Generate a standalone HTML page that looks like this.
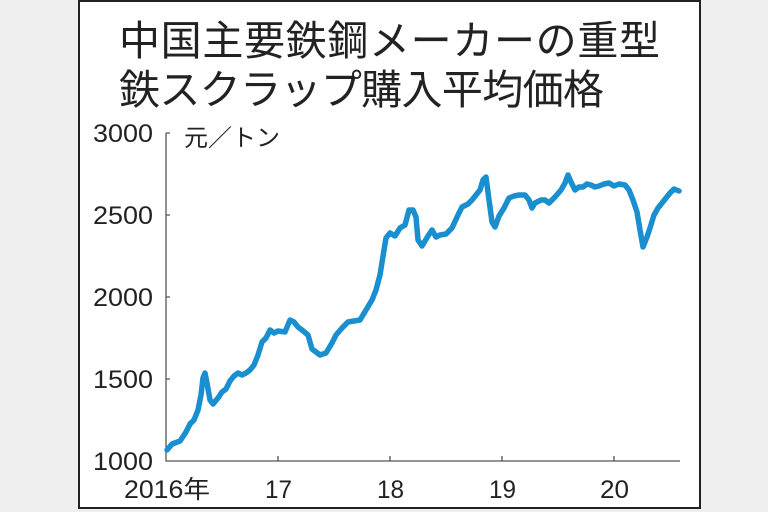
<!DOCTYPE html>
<html><head><meta charset="utf-8"><style>
body{margin:0;background:#efefef;width:768px;height:512px;overflow:hidden}
</style></head><body>
<svg width="768" height="512" viewBox="0 0 768 512" style="position:absolute;left:0;top:0">
<rect x="79" y="1" width="621" height="507" fill="#fff" stroke="#222" stroke-width="2"/>
<g font-family="'Liberation Sans','Noto Sans CJK JP',sans-serif" fill="#222">
<text x="119" y="55" font-size="41" textLength="541" lengthAdjust="spacing">中国主要鉄鋼メーカーの重型</text>
<text x="119" y="104" font-size="41" textLength="485" lengthAdjust="spacing">鉄スクラップ購入平均価格</text>
<text x="184" y="146" font-size="24">元／トン</text>
<g font-size="25">
<text x="93" y="142" textLength="60" lengthAdjust="spacingAndGlyphs">3000</text>
<text x="93" y="224" textLength="60" lengthAdjust="spacingAndGlyphs">2500</text>
<text x="93" y="306" textLength="60" lengthAdjust="spacingAndGlyphs">2000</text>
<text x="93" y="388" textLength="60" lengthAdjust="spacingAndGlyphs">1500</text>
<text x="93" y="470" textLength="60" lengthAdjust="spacingAndGlyphs">1000</text>
</g>
<g font-size="25">
<text x="124" y="498" textLength="86" lengthAdjust="spacingAndGlyphs">2016年</text>
<text x="265" y="498" textLength="27" lengthAdjust="spacingAndGlyphs">17</text>
<text x="377" y="498" textLength="27" lengthAdjust="spacingAndGlyphs">18</text>
<text x="489" y="498" textLength="27" lengthAdjust="spacingAndGlyphs">19</text>
<text x="600" y="498" textLength="29" lengthAdjust="spacingAndGlyphs">20</text>
</g>
</g>
<g stroke="#555" stroke-width="1.3" fill="none">
<path d="M166 133V461H680"/>
<path d="M166 133h4M166 215h4M166 297h4M166 379h4M278 461v-5M390 461v-5M502 461v-5M614 461v-5"/>
</g>
<polyline fill="none" stroke="#1a8fd0" stroke-width="5.5" stroke-linejoin="round" stroke-linecap="round" points="167,450 172,444 180,441 186,432 190,424 194,420 198,410 201,395 203,378 205,373 207,383 210,400 213,404 218,398 222,392 226,389 230,381 234,376 238,373 242,375 246,373 250,370 254,365 258,355 262,342 266,338 270,330 274,333 278,331 285,332 290,320 294,322 298,327 302,330 308,335 312,349 316,352 320,355 326,353 332,343 336,335 342,328 348,322 354,321 360,320 366,310 372,300 376,290 380,275 384,250 386,238 390,233 395,236 400,228 405,225 409,210 413,210 416,217 418,240 422,246 428,236 432,230 436,237 440,235 446,234 452,228 458,215 462,207 468,204 472,200 476,195 480,190 483,180 486,177 489,200 492,222 495,227 499,216 504,208 509,198 514,196 519,195 525,195 529,200 532,208 535,203 541,200 545,200 549,203 555,197 561,190 565,183 568,175 571,182 575,190 579,187 583,187 587,184 591,185 595,187 599,186 604,184 609,183 614,186 619,184 625,185 629,190 633,200 637,212 640,230 643,247 647,237 650,228 654,215 658,208 662,203 666,198 670,193 674,189 679,191"/>
</svg>
</body></html>
